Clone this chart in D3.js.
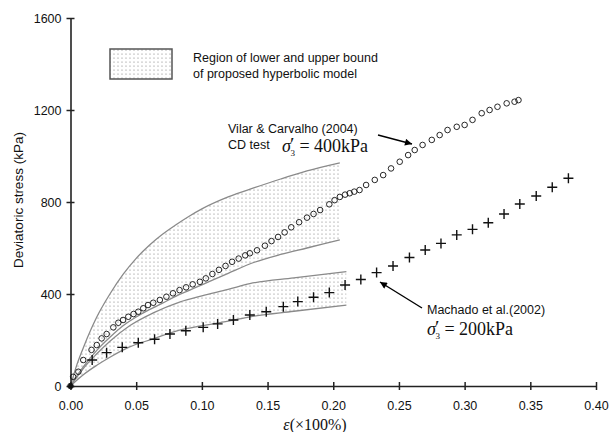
<!DOCTYPE html>
<html><head><meta charset="utf-8">
<script src="https://cdn.jsdelivr.net/npm/d3@7"></script>
<style>body{margin:0;background:#fff}svg{display:block}</style>
</head><body>
<svg id="c" width="609" height="432"></svg>
<script>
// ---- data ----
const xTicks = [0, 0.05, 0.10, 0.15, 0.20, 0.25, 0.30, 0.35, 0.40];
const yTicks = [0, 400, 800, 1200, 1600];

// upper band (400 kPa model)
const upperBandEps   = [0, .005, .01, .02, .03, .04, .05, .06, .07, .08, .09, .10, .12, .14, .16, .18, .205];
const upperBandHigh  = [0, 95, 170, 300, 400, 485, 555, 612, 660, 700, 737, 770, 822, 862, 900, 935, 970];
const upperBandLow   = [0, 45, 85, 155, 212, 262, 300, 332, 360, 390, 415, 440, 490, 538, 572, 600, 635];
// lower band (200 kPa model)
const lowerBandEps   = [0, .005, .01, .02, .03, .045, .063, .083, .10, .12, .1365, .17, .21];
const lowerBandHigh  = [0, 40, 78, 140, 195, 262, 318, 365, 392, 420, 445, 470, 497];
const lowerBandLow   = [0, 26, 50, 90, 125, 170, 205, 243, 262, 282, 301, 325, 352];

// Vilar & Carvalho (2004), CD test, 400 kPa
const vilarEps = [0, .002, .006, .0097, .016, .020, .0237, .0275, .0326, .0364, .040, .044, .048, .0516, .0554, .059, .063, .068, .073, .078, .083, .088, .093, .0985,
  .103, .108, .113, .118, .123, .128, .133, .1365, .142, .148, .153, .158, .163, .168, .174, .18, .185, .19, .197, .201, .205, .209, .2125, .216, .22,
  .225, .2316, .238, .244, .2506, .257, .262, .268, .275, .281, .287, .294, .300, .306, .313, .319, .325, .332, .338, .341];
const vilarStress = [0, 40, 62, 113, 157, 178, 207, 226, 255, 275, 287, 301, 313, 323, 338, 352, 362, 374, 388, 403, 417, 429, 442, 453,
  468, 487, 505, 522, 540, 554, 568, 577, 590, 610, 630, 648, 668, 690, 712, 732, 748, 765, 790, 808, 822, 832, 838, 845, 852,
  874, 896, 917, 946, 975, 1004, 1026, 1048, 1070, 1091, 1113, 1127, 1135, 1157, 1186, 1200, 1214, 1229, 1236, 1243];

// Machado et al. (2002), 200 kPa
const machadoEps = [.0165, .0275, .0394, .0516, .064, .0757, .0878, .101, .112, .124, .1365, .149, .162, .173, .185, .197, .209, .221, .233, .2455,
  .258, .270, .282, .294, .306, .318, .330, .342, .3545, .3667, .379];
const machadoStress = [113, 145, 168, 188, 203, 226, 240, 255, 270, 287, 309, 323, 345, 367, 386, 406, 439, 463, 493, 522,
  559, 591, 620, 657, 681, 710, 748, 791, 826, 864, 903];

// ---- drawing ----
const svg = d3.select('#c');
const x = d3.scaleLinear().domain([0, 0.4]).range([70.5, 596]);
const y = d3.scaleLinear().domain([0, 1600]).range([386, 18]);

const defs = svg.append('defs');
const pat = defs.append('pattern').attr('id', 'dots').attr('width', 4).attr('height', 4)
  .attr('patternUnits', 'userSpaceOnUse');
pat.append('rect').attr('width', 4).attr('height', 4).attr('fill', '#fff');
pat.append('circle').attr('cx', 2).attr('cy', 2).attr('r', 0.6).attr('fill', '#7a7a7a');
defs.append('marker').attr('id', 'arrow').attr('viewBox', '0 0 10 10').attr('refX', 10).attr('refY', 5)
  .attr('markerWidth', 9).attr('markerHeight', 7).attr('markerUnits', 'userSpaceOnUse').attr('orient', 'auto')
  .append('path').attr('d', 'M0,0 L10,5 L0,10 z').attr('fill', '#000');

function band(eps, hi, lo) {
  const d = eps.map((e, i) => ({e, hi: hi[i], lo: lo[i]}));
  svg.append('path').datum(d)
    .attr('d', d3.area().x(p => x(p.e)).y0(p => y(p.lo)).y1(p => y(p.hi)).curve(d3.curveMonotoneX))
    .attr('fill', 'url(#dots)');
  ['hi', 'lo'].forEach(k => {
    svg.append('path').datum(d)
      .attr('d', d3.line().x(p => x(p.e)).y(p => y(p[k])).curve(d3.curveMonotoneX))
      .attr('fill', 'none').attr('stroke', '#8a8a8a').attr('stroke-width', 1.3);
  });
}
band(upperBandEps, upperBandHigh, upperBandLow);
band(lowerBandEps, lowerBandHigh, lowerBandLow);

// axes
const gx = svg.append('g').attr('transform', 'translate(0,386)')
  .call(d3.axisBottom(x).tickValues(xTicks).tickFormat(d3.format('.2f')).tickSize(4).tickSizeOuter(0).tickPadding(11));
const gy = svg.append('g').attr('transform', 'translate(70.5,0)')
  .call(d3.axisLeft(y).tickValues(yTicks).tickFormat(d3.format('d')).tickSize(4).tickSizeOuter(0).tickPadding(5));
gx.selectAll('.tick line').attr('y1', -4).attr('y2', 4);
gy.selectAll('.tick line').attr('x1', -4).attr('x2', 4);
[gx, gy].forEach(g => {
  g.select('.domain').attr('stroke', '#222').attr('stroke-width', 1.6);
  g.selectAll('.tick line').attr('stroke', '#222').attr('stroke-width', 1.5);
  g.selectAll('.tick text').attr('font-family', 'Liberation Sans, Arial, sans-serif').attr('font-size', 12.5).attr('fill', '#111');
});

// markers
svg.append('g').selectAll('circle').data(vilarEps.map((e, i) => [e, vilarStress[i]])).join('circle')
  .attr('cx', d => x(d[0])).attr('cy', d => y(d[1])).attr('r', 2.8)
  .attr('fill', 'none').attr('stroke', '#111').attr('stroke-width', 0.9);
svg.append('g').selectAll('path').data(machadoEps.map((e, i) => [e, machadoStress[i]])).join('path')
  .attr('d', d => `M${x(d[0]) - 5},${y(d[1])}h10M${x(d[0])},${y(d[1]) - 5}v10`)
  .attr('stroke', '#111').attr('stroke-width', 1.4);
svg.append('circle').attr('cx', x(0)).attr('cy', y(0)).attr('r', 2.5).attr('fill', '#111');

// axis titles
svg.append('text').attr('transform', 'translate(23,200) rotate(-90)').attr('text-anchor', 'middle')
  .attr('font-family', 'Liberation Sans, Arial, sans-serif').attr('font-size', 13.5).attr('fill', '#111')
  .text('Deviatoric stress (kPa)');
const xt = svg.append('text').attr('x', 315).attr('y', 430).attr('text-anchor', 'middle')
  .attr('font-family', 'Liberation Serif, Times New Roman, serif').attr('font-size', 16).attr('fill', '#111');
xt.append('tspan').attr('font-style', 'italic').text('ε');
xt.append('tspan').text('(×100%)');

// legend
svg.append('rect').attr('x', 110).attr('y', 49).attr('width', 62).attr('height', 30)
  .attr('fill', 'url(#dots)').attr('stroke', '#555').attr('stroke-width', 1.5);
const lg = svg.append('text').attr('font-family', 'Liberation Sans, Arial, sans-serif').attr('font-size', 12.5).attr('fill', '#111');
lg.append('tspan').attr('x', 193).attr('y', 62).text('Region of lower and upper bound');
lg.append('tspan').attr('x', 193).attr('y', 78).text('of proposed hyperbolic model');

// annotations
function sigma(xp, yp, rest) {
  const t = svg.append('text').attr('x', xp).attr('y', yp)
    .attr('font-family', 'Liberation Serif, Times New Roman, serif').attr('font-size', 18).attr('fill', '#111');
  t.append('tspan').attr('font-style', 'italic').text('σ');
  t.append('tspan').attr('font-size', 16).attr('font-weight', 'bold').attr('dx', -1).attr('dy', -3).text('′');
  t.append('tspan').attr('font-size', 9).attr('dx', -4).attr('dy', 7).text('3');
  t.append('tspan').attr('dy', -4).text(' = ' + rest);
}
const a1 = svg.append('text').attr('font-family', 'Liberation Sans, Arial, sans-serif').attr('font-size', 12.5).attr('fill', '#111');
a1.append('tspan').attr('x', 228).attr('y', 133).text('Vilar & Carvalho (2004)');
a1.append('tspan').attr('x', 228).attr('y', 149).text('CD test');
sigma(282, 152, '400kPa');
svg.append('line').attr('x1', 378).attr('y1', 135).attr('x2', 412).attr('y2', 144)
  .attr('stroke', '#000').attr('stroke-width', 1.4).attr('marker-end', 'url(#arrow)');

svg.append('text').attr('x', 427).attr('y', 314).attr('font-family', 'Liberation Sans, Arial, sans-serif')
  .attr('font-size', 12.5).attr('fill', '#111').text('Machado et al.(2002)');
sigma(427, 335, '200kPa');
svg.append('line').attr('x1', 422).attr('y1', 308).attr('x2', 380).attr('y2', 282)
  .attr('stroke', '#000').attr('stroke-width', 1.4).attr('marker-end', 'url(#arrow)');
</script>
</body></html>
